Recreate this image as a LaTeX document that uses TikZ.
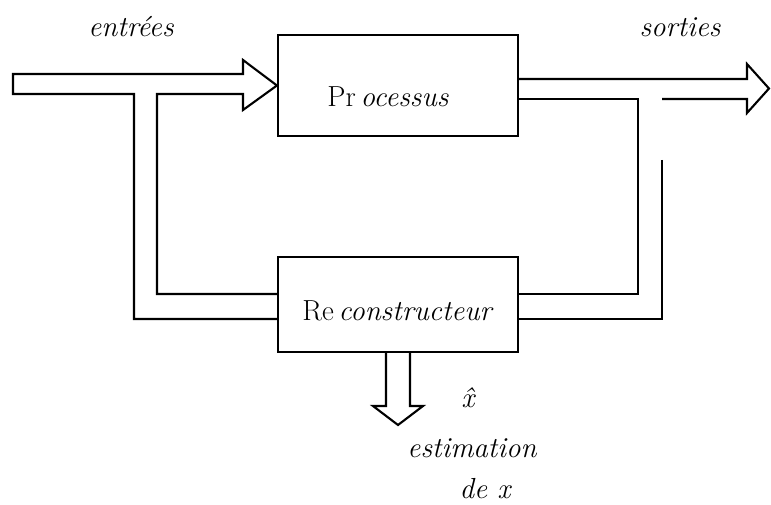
\documentclass[tikz,border=0pt]{standalone}
\usepackage{fontspec}
\begin{document}
\begin{tikzpicture}[x=1pt,y=-1pt,
  line width=2.1pt, line join=miter,
  blockbox/.style={draw, line width=2.1pt, minimum width=240pt, minimum height=#1, inner sep=0pt},
  lbl/.style={inner sep=0pt, font=\fontsize{29}{34}\selectfont\itshape},
  boxlbl/.style={inner sep=0pt, font=\fontsize{29}{34}\selectfont}]
\useasboundingbox (0,0) rectangle (771,505);
% blocks
\node[blockbox=101pt] (proc) at (398,85.5) {};
\node[blockbox=95pt] (rec) at (398,304.5) {};
\node[boxlbl] (proclbl) at (388,97) {Pr\,\textit{ocessus}};
\node[boxlbl] (reclbl) at (398,311) {Re\,\textit{constructeur}};
% labels
\node[lbl, anchor=base] (ent) at (131,37) {entrées};
\node[lbl, anchor=base] (sor) at (680,37) {sorties};
\node[lbl, anchor=base] (xh) at (468,407) {\^{x}};
\node[lbl, anchor=base] (est) at (472,457) {estimation};
\node[lbl, anchor=base] (dex) at (485,498) {de x};
% coordinates
\coordinate (r1) at (278,294);
\coordinate (r2) at (278,319);
\coordinate (r3) at (518,294);
\coordinate (r4) at (518,319);
\coordinate (p1) at (518,79);
\coordinate (p2) at (518,99);
\coordinate (o1) at (662,160);
% input arrow with feedback branch
\draw (r2) -- (134,319) -- (134,94) -- (13,94) -- (13,74) -- (243,74) -- (243,60)
      -- (proc.west) -- (243,110) -- (243,94) -- (157,94) -- (157,294) -- (r1);
% output arrow with branch
\draw (p1) -- (747,79) -- (747,64) -- (769,88.5) -- (747,113) -- (747,99) -- (662,99);
\draw (o1) -- (662,319) -- (r4);
\draw (r3) -- (638,294) -- (638,99) -- (p2);
% estimation arrow
\draw (386,352) -- (386,406) -- (373,406) -- (398,425) -- (423,406) -- (410,406) -- (410,352);
\end{tikzpicture}
\end{document}
